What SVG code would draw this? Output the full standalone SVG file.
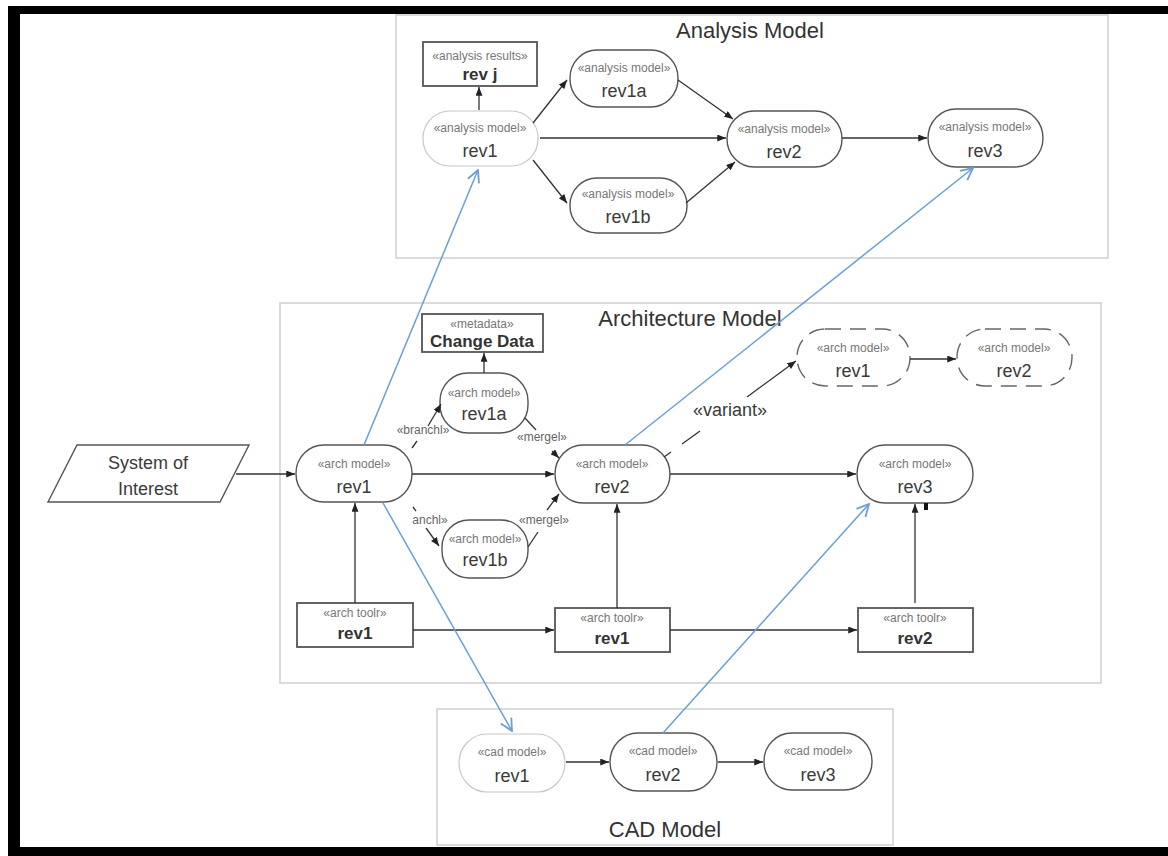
<svg xmlns="http://www.w3.org/2000/svg" width="1168" height="856" viewBox="0 0 1168 856">
<defs>
<marker id="ah" viewBox="0 0 10 8" refX="10" refY="4" markerWidth="9" markerHeight="7" markerUnits="userSpaceOnUse" orient="auto"><path d="M0,0 L10,4 L0,8 Z" fill="#222"/></marker>
<marker id="bh" viewBox="0 0 14 14" refX="13" refY="7" markerWidth="14" markerHeight="14" markerUnits="userSpaceOnUse" orient="auto"><path d="M1,1 L13,7 L1,13" fill="none" stroke="#6b9fd3" stroke-width="1.8"/></marker>
<style>
.frame{fill:none;stroke:#cfcfcf;stroke-width:1.5}
.title{font-family:"Liberation Sans",Arial,sans-serif;font-size:22px;fill:#333;text-anchor:middle}
.nd{fill:#fff;stroke:#555;stroke-width:1.4}
.lt{fill:#fff;stroke:#c8c8c8;stroke-width:1.2}
.dash{fill:#fff;stroke:#666;stroke-width:1.4;stroke-dasharray:16 9}
.bx{fill:#fff;stroke:#555;stroke-width:1.8}
.st{font-family:"Liberation Sans",Arial,sans-serif;font-size:12px;fill:#777;text-anchor:middle}
.lb{font-family:"Liberation Sans",Arial,sans-serif;font-size:18px;fill:#3a3a3a;text-anchor:middle}
.bl{font-family:"Liberation Sans",Arial,sans-serif;font-size:17px;font-weight:bold;fill:#333;text-anchor:middle}
.el{font-family:"Liberation Sans",Arial,sans-serif;font-size:12px;fill:#666;text-anchor:middle}
.ar{fill:none;stroke:#333;stroke-width:1.3}
.bu{fill:none;stroke:#6b9fd3;stroke-width:1.5}
</style>
</defs>
<rect x="0" y="0" width="1168" height="856" fill="#fff"/>
<g id="border" fill="#000">
<rect x="8" y="6" width="1160" height="8"/>
<rect x="8" y="6" width="12" height="850"/>
<rect x="8" y="847" width="1160" height="9"/>
</g>
<g id="analysis-model">
<rect class="frame" x="396" y="15" width="712" height="243"/>
<text class="title" x="750" y="38">Analysis Model</text>
</g>
<g id="architecture-model">
<rect class="frame" x="280" y="303" width="821" height="380"/>
<text class="title" x="690" y="326" font-size="23">Architecture Model</text>
</g>
<g id="cad-model">
<rect class="frame" x="437" y="709" width="456" height="136"/>
<text class="title" x="665" y="837" font-size="21">CAD Model</text>
</g>

<g id="a-revj"><rect class="bx" x="423" y="42" width="114" height="44"/><text class="st" x="480" y="60">«analysis results»</text><text class="bl" x="480" y="80" font-size="15">rev j</text></g>
<g id="a-rev1"><rect class="lt" x="423" y="111" width="115" height="55" rx="27" ry="27"/><text class="st" x="480" y="132">«analysis model»</text><text class="lb" x="480" y="157">rev1</text></g>
<g id="a-rev1a"><rect class="nd" x="570" y="50" width="108" height="57" rx="27" ry="28"/><text class="st" x="624" y="72">«analysis model»</text><text class="lb" x="624" y="97">rev1a</text></g>
<g id="a-rev1b"><rect class="nd" x="570" y="178" width="117" height="55" rx="27" ry="27"/><text class="st" x="628" y="198">«analysis model»</text><text class="lb" x="628" y="223">rev1b</text></g>
<g id="a-rev2"><rect class="nd" x="727" y="111" width="115" height="56" rx="27" ry="28"/><text class="st" x="784" y="133">«analysis model»</text><text class="lb" x="784" y="158">rev2</text></g>
<g id="a-rev3"><rect class="nd" x="928" y="109" width="115" height="58" rx="28" ry="29"/><text class="st" x="985" y="131">«analysis model»</text><text class="lb" x="985" y="157">rev3</text></g>

<g id="soi"><polygon class="nd" points="77,445 249,445 220,502 48,502"/><text class="lb" x="148" y="469" font-size="22">System of</text><text class="lb" x="148" y="495" font-size="22">Interest</text></g>
<g id="r-rev1"><rect class="nd" x="296" y="445" width="116" height="57" rx="28" ry="28"/><text class="st" x="354" y="468">«arch model»</text><text class="lb" x="354" y="493">rev1</text></g>
<g id="r-change"><rect class="bx" x="422" y="314" width="121" height="38"/><text class="st" x="482" y="328">«metadata»</text><text class="bl" x="482" y="347" font-size="14.5">Change Data</text></g>
<g id="r-rev1a"><rect class="nd" x="440" y="373" width="88" height="60" rx="28" ry="28"/><text class="st" x="484" y="397">«arch model»</text><text class="lb" x="484" y="420">rev1a</text></g>
<g id="r-rev1b"><rect class="nd" x="442" y="520" width="86" height="58" rx="27" ry="27"/><text class="st" x="485" y="543">«arch model»</text><text class="lb" x="485" y="566">rev1b</text></g>
<g id="r-rev2"><rect class="nd" x="555" y="445" width="115" height="58" rx="28" ry="29"/><text class="st" x="612" y="468">«arch model»</text><text class="lb" x="612" y="493">rev2</text></g>
<g id="r-rev3"><rect class="nd" x="857" y="445" width="116" height="58" rx="28" ry="29"/><text class="st" x="915" y="468">«arch model»</text><text class="lb" x="915" y="493">rev3</text><rect x="924" y="503" width="4" height="7" fill="#111"/></g>
<g id="v-rev1"><rect class="dash" x="797" y="329" width="113" height="57" rx="28" ry="28"/><text class="st" x="853" y="352">«arch model»</text><text class="lb" x="853" y="377">rev1</text></g>
<g id="v-rev2"><rect class="dash" x="957" y="329" width="115" height="57" rx="28" ry="28"/><text class="st" x="1014" y="352">«arch model»</text><text class="lb" x="1014" y="377">rev2</text></g>
<g id="t-rev1"><rect class="bx" x="297" y="603" width="116" height="44"/><text class="st" x="355" y="617">«arch toolr»</text><text class="bl" x="355" y="639" font-size="18">rev1</text></g>
<g id="t-rev1b"><rect class="bx" x="555" y="608" width="115" height="44"/><text class="st" x="612" y="622">«arch toolr»</text><text class="bl" x="612" y="644" font-size="18">rev1</text></g>
<g id="t-rev2"><rect class="bx" x="858" y="608" width="115" height="44"/><text class="st" x="915" y="622">«arch toolr»</text><text class="bl" x="915" y="644" font-size="18">rev2</text></g>

<g id="c-rev1"><rect class="lt" x="459" y="734" width="106" height="58" rx="28" ry="29"/><text class="st" x="512" y="756">«cad model»</text><text class="lb" x="512" y="782">rev1</text></g>
<g id="c-rev2"><rect class="nd" x="610" y="733" width="107" height="58" rx="28" ry="29"/><text class="st" x="663" y="755">«cad model»</text><text class="lb" x="663" y="781">rev2</text></g>
<g id="c-rev3"><rect class="nd" x="764" y="733" width="108" height="57" rx="28" ry="28"/><text class="st" x="818" y="755">«cad model»</text><text class="lb" x="818" y="781">rev3</text></g>

<g id="connectors">
<line class="ar" x1="479" y1="110" x2="479" y2="87" marker-end="url(#ah)"/>
<line class="ar" x1="533" y1="123" x2="567" y2="80" marker-end="url(#ah)"/>
<line class="ar" x1="540" y1="138" x2="726" y2="138" marker-end="url(#ah)"/>
<line class="ar" x1="533" y1="160" x2="567" y2="203" marker-end="url(#ah)"/>
<line class="ar" x1="678" y1="80" x2="733" y2="119" marker-end="url(#ah)"/>
<line class="ar" x1="686" y1="203" x2="735" y2="162" marker-end="url(#ah)"/>
<line class="ar" x1="842" y1="138" x2="927" y2="138" marker-end="url(#ah)"/>

<line class="ar" x1="236" y1="474" x2="295" y2="474" marker-end="url(#ah)"/>
<line class="ar" x1="412" y1="474" x2="554" y2="474" marker-end="url(#ah)"/>
<line class="ar" x1="670" y1="474" x2="856" y2="474" marker-end="url(#ah)"/>
<line class="ar" x1="484" y1="373" x2="484" y2="353" marker-end="url(#ah)"/>
<line class="ar" x1="412" y1="448" x2="417" y2="441"/>
<line class="ar" x1="428" y1="426" x2="441" y2="404" marker-end="url(#ah)"/>
<text class="el" x="423" y="434">«branchl»</text>
<line class="ar" x1="525" y1="418" x2="536" y2="430"/>
<line class="ar" x1="552" y1="451" x2="559" y2="458" marker-end="url(#ah)"/>
<text class="el" x="542" y="441">«mergel»</text>
<line class="ar" x1="413" y1="507" x2="416" y2="511"/>
<line class="ar" x1="426" y1="528" x2="439" y2="546" marker-end="url(#ah)"/>
<text class="el" x="430" y="524">anchl»</text>
<line class="ar" x1="528" y1="547" x2="538" y2="532"/>
<line class="ar" x1="547" y1="510" x2="559" y2="494" marker-end="url(#ah)"/>
<text class="el" x="544" y="524">«mergel»</text>
<line class="ar" x1="664" y1="457" x2="671" y2="452" stroke="#666"/>
<line class="ar" x1="682" y1="444" x2="700" y2="431" stroke="#666"/>
<line class="ar" x1="747" y1="397" x2="796" y2="361" stroke="#666" marker-end="url(#ah)"/>
<text class="lb" x="730" y="416" fill="#666" font-size="18.5">«variant»</text>
<line class="ar" x1="910" y1="359" x2="956" y2="359" marker-end="url(#ah)"/>
<line class="ar" x1="355" y1="603" x2="355" y2="503" marker-end="url(#ah)"/>
<line class="ar" x1="413" y1="630" x2="554" y2="630" marker-end="url(#ah)"/>
<line class="ar" x1="617" y1="608" x2="617" y2="504" marker-end="url(#ah)"/>
<line class="ar" x1="670" y1="630" x2="857" y2="630" marker-end="url(#ah)"/>
<line class="ar" x1="915" y1="603" x2="915" y2="504" marker-end="url(#ah)"/>

<line class="ar" x1="566" y1="762" x2="609" y2="762" marker-end="url(#ah)"/>
<line class="ar" x1="718" y1="762" x2="763" y2="762" marker-end="url(#ah)"/>

<line class="bu" x1="364" y1="445" x2="478" y2="170" marker-end="url(#bh)"/>
<line class="bu" x1="625" y1="445" x2="973" y2="168" marker-end="url(#bh)"/>
<line class="bu" x1="383" y1="503" x2="512" y2="731" marker-end="url(#bh)"/>
<line class="bu" x1="663" y1="733" x2="869" y2="504" marker-end="url(#bh)"/>
</g>
</svg>
